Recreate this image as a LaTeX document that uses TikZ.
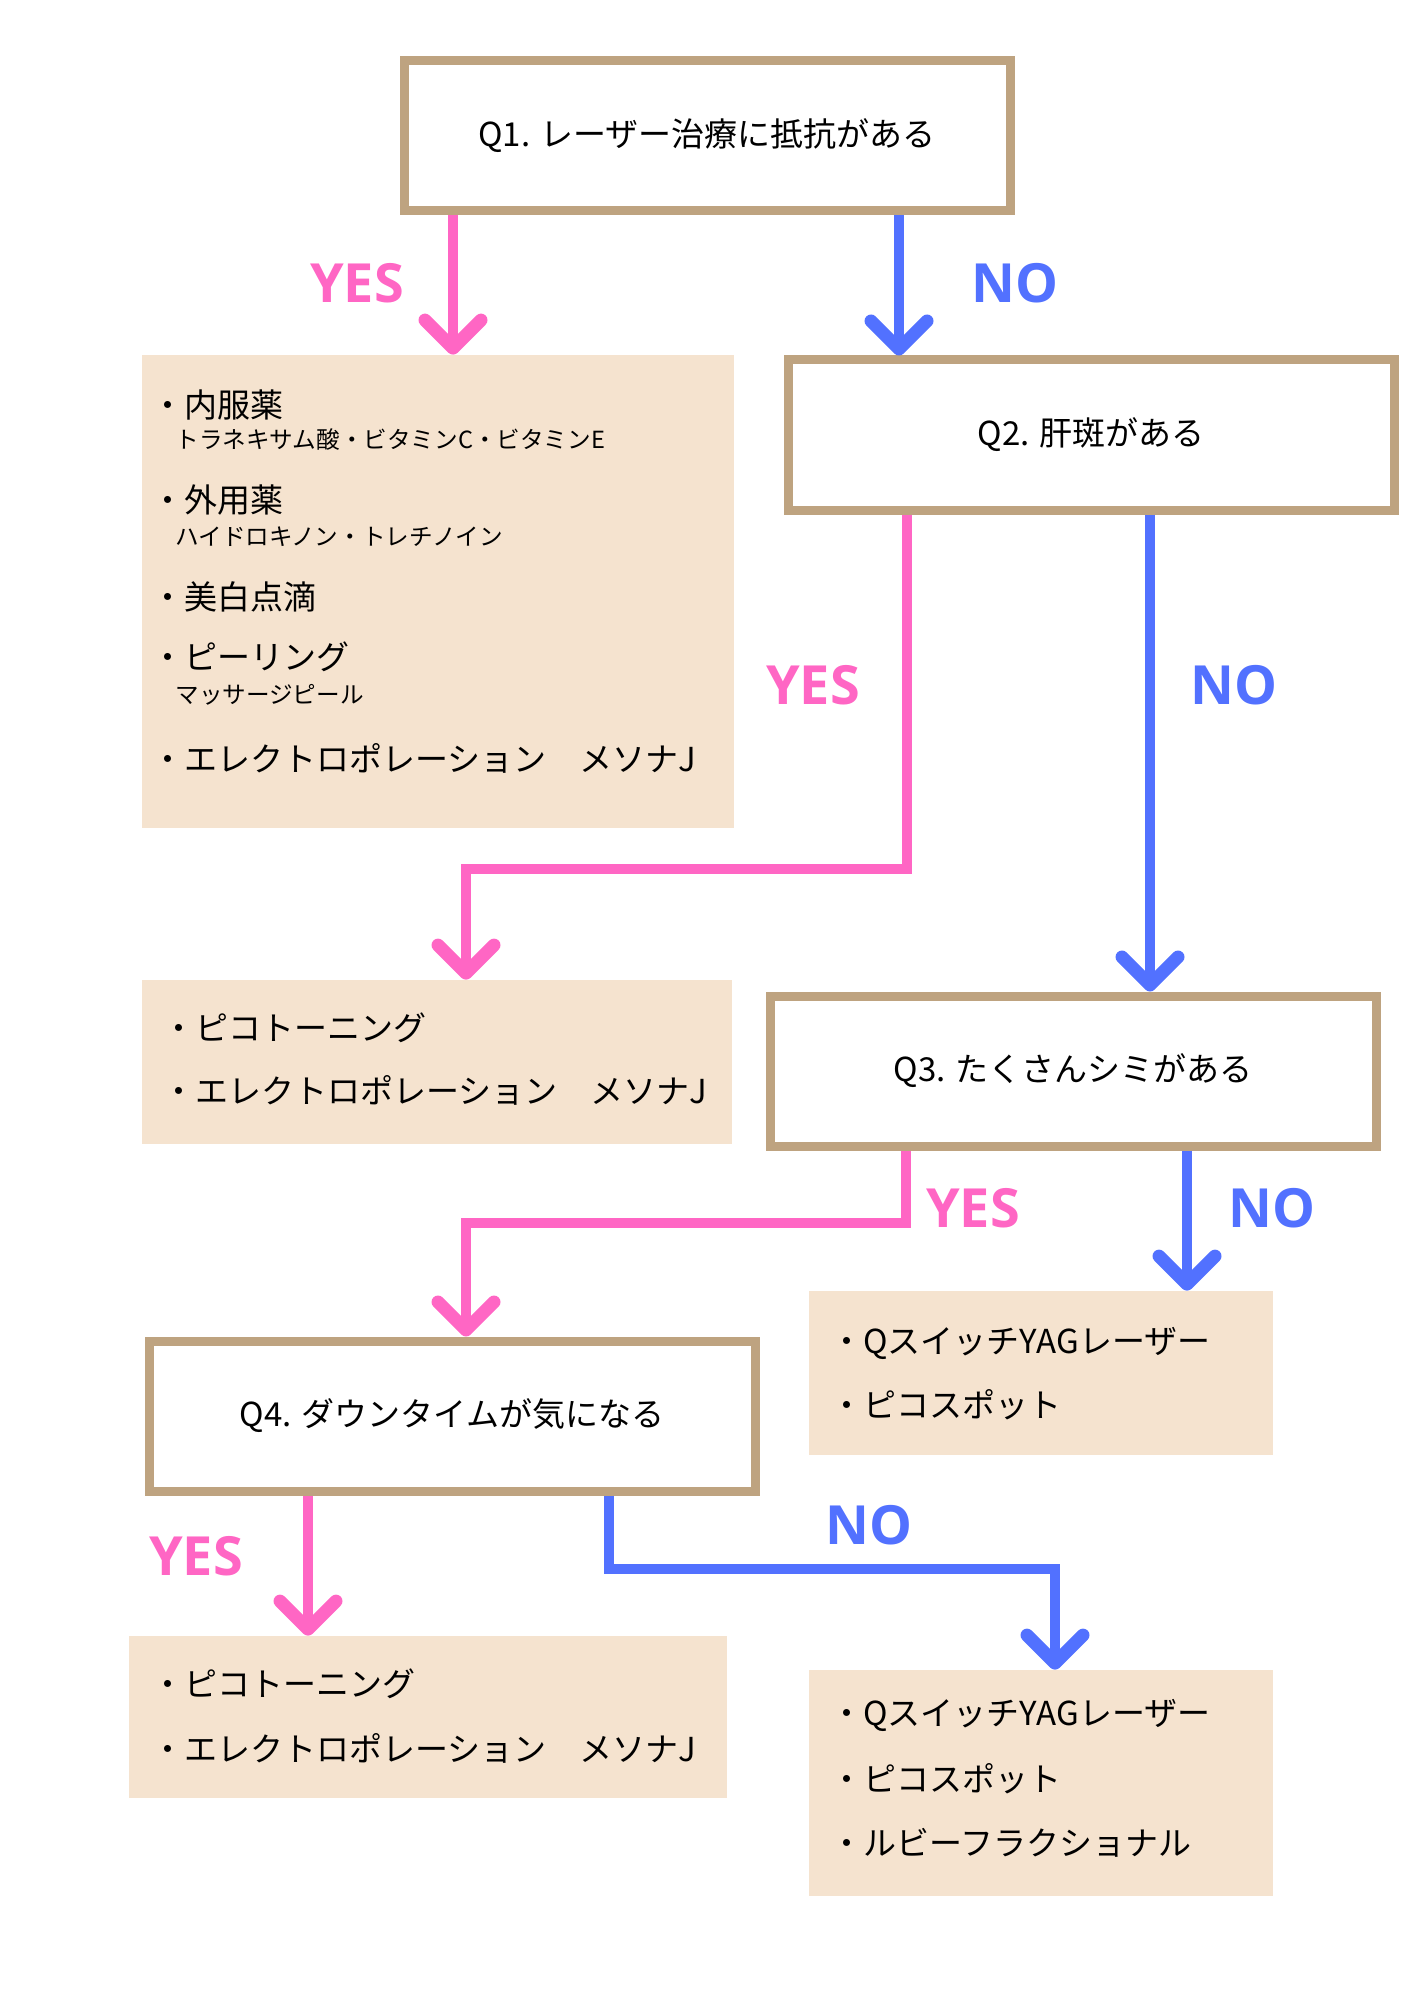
\documentclass[tikz,border=0pt]{standalone}
\usepackage{fontspec}
\usepackage{tikz}
\usetikzlibrary{arrows.meta}
\newfontfamily\jpfont{Noto Sans CJK JP}
\newfontfamily\ynfont{Open Sans}
\definecolor{qframe}{RGB}{190,163,128}
\definecolor{ansfill}{RGB}{245,227,207}
\definecolor{yespink}{RGB}{255,102,196}
\definecolor{noblue}{RGB}{82,113,255}
\tikzset{
  qbox/.style={draw=qframe, line width=4.5pt, fill=white, minimum width=303pt, minimum height=75pt, inner sep=0pt, font=\jpfont\fontsize{16.5}{20}\selectfont},
  ansbox/.style={fill=ansfill, inner sep=0pt},
  item/.style={anchor=west, inner sep=0pt, font=\jpfont\fontsize{16.5}{20}\selectfont},
  subitem/.style={anchor=west, inner sep=0pt, font=\jpfont\fontsize{11.8}{14}\selectfont},
  yesline/.style={draw=yespink, line width=5pt, -{Straight Barb[round,length=14pt,width=28pt,line width=6.5pt]}},
  noline/.style={draw=noblue, line width=5pt, -{Straight Barb[round,length=14pt,width=28pt,line width=6.5pt]}},
  yeslabel/.style={text=yespink, inner sep=0pt, font=\ynfont\bfseries\fontsize{27}{30}\selectfont},
  nolabel/.style={text=noblue, inner sep=0pt, font=\ynfont\bfseries\fontsize{27}{30}\selectfont}
}
\begin{document}
\begin{tikzpicture}[x=0.5pt,y=0.5pt,yscale=-1,xscale=1]
\useasboundingbox (0,0) rectangle (1414,2000);

%Shape: Question boxes
\node[qbox] (q1) at (707,136) {Q1. レーザー治療に抵抗がある};
\node[qbox] (q2) at (1091,435) {Q2. 肝斑がある};
\node[qbox] (q3) at (1073,1071) {Q3. たくさんシミがある};
\node[qbox] (q4) at (452,1416) {Q4. ダウンタイムが気になる};

%Shape: Answer boxes
\node[ansbox, minimum width=296pt, minimum height=236.5pt] (ansA) at (438,591.5) {};
\node[ansbox, minimum width=295pt, minimum height=82pt] (ansB) at (437,1062) {};
\node[ansbox, minimum width=232pt, minimum height=82pt] (ansC) at (1041,1373) {};
\node[ansbox, minimum width=299pt, minimum height=81pt] (ansD) at (428,1717) {};
\node[ansbox, minimum width=232pt, minimum height=113pt] (ansE) at (1041,1783) {};

% Text Node
\node[item] (a1) at (151,405) {・内服薬};
\node[subitem] (a1s) at (175,440) {トラネキサム酸・ビタミンC・ビタミンE};
\node[item] (a2) at (151,500) {・外用薬};
\node[subitem] (a2s) at (175,537) {ハイドロキノン・トレチノイン};
\node[item] (a3) at (151,597) {・美白点滴};
\node[item] (a4) at (151,657) {・ピーリング};
\node[subitem] (a4s) at (175,695) {マッサージピール};
\node[item] (a5) at (151,758) {・エレクトロポレーション　メソナJ};
% Text Node
\node[item] (b1) at (162,1028) {・ピコトーニング};
\node[item] (b2) at (162,1090) {・エレクトロポレーション　メソナJ};
% Text Node
\node[item] (c1) at (830,1343) {・QスイッチYAGレーザー};
\node[item] (c2) at (830,1405) {・ピコスポット};
% Text Node
\node[item] (d1) at (151,1684) {・ピコトーニング};
\node[item] (d2) at (151,1748) {・エレクトロポレーション　メソナJ};
% Text Node
\node[item] (e1) at (830,1715) {・QスイッチYAGレーザー};
\node[item] (e2) at (830,1779) {・ピコスポット};
\node[item] (e3) at (830,1843) {・ルビーフラクショナル};

%Arrows
\coordinate (q1yes) at (453,0);
\coordinate (q1no) at (899,0);
\draw[yesline] (q1.south -| q1yes) -- (ansA.north -| q1yes);
\draw[noline] (q1.south -| q1no) -- (q2.north -| q1no);

\coordinate (q2yes) at (907,869);
\coordinate (ansBtop) at (466,0);
\coordinate (q2no) at (1150,0);
\draw[yesline] (q2.south -| q2yes) -- (q2yes) -| (ansB.north -| ansBtop);
\draw[noline] (q2.south -| q2no) -- (q3.north -| q2no);

\coordinate (q3yes) at (906,1223);
\coordinate (q4top) at (466,0);
\coordinate (q3no) at (1187,0);
\draw[yesline] (q3.south -| q3yes) -- (q3yes) -| (q4.north -| q4top);
\draw[noline] (q3.south -| q3no) -- (ansC.north -| q3no);

\coordinate (q4yes) at (308,0);
\coordinate (q4no) at (609,1569);
\coordinate (ansEtop) at (1055,0);
\draw[yesline] (q4.south -| q4yes) -- (ansD.north -| q4yes);
\draw[noline] (q4.south -| q4no) -- (q4no) -| (ansE.north -| ansEtop);

% Text Node
\node[yeslabel] (lyes1) at (357,283) {YES};
\node[nolabel] (lno1) at (1015,283) {NO};
\node[yeslabel] (lyes2) at (813,685) {YES};
\node[nolabel] (lno2) at (1234,685) {NO};
\node[yeslabel] (lyes3) at (973,1208) {YES};
\node[nolabel] (lno3) at (1272,1208) {NO};
\node[yeslabel] (lyes4) at (196,1556) {YES};
\node[nolabel] (lno4) at (869,1525) {NO};

\end{tikzpicture}
\end{document}
